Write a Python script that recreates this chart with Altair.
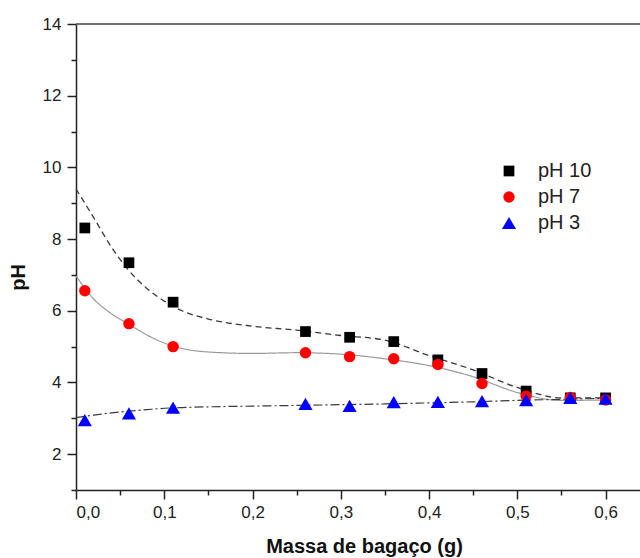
import altair as alt
import pandas as pd

# Measured points
mass = [0.01, 0.06, 0.11, 0.26, 0.31, 0.36, 0.41, 0.46, 0.51, 0.56, 0.60]
ph10 = [8.31, 7.34, 6.24, 5.42, 5.26, 5.14, 4.63, 4.25, 3.76, 3.57, 3.57]
ph7 = [6.56, 5.64, 5.00, 4.83, 4.72, 4.66, 4.50, 3.97, 3.62, 3.58, 3.51]
ph3 = [2.95, 3.14, 3.30, 3.40, 3.35, 3.45, 3.46, 3.48, 3.51, 3.57, 3.55]

# Fitted curves
curve_x = [0.0, 0.02, 0.04, 0.06, 0.08, 0.10, 0.12, 0.15, 0.20, 0.25, 0.30,
           0.35, 0.40, 0.45, 0.50, 0.55, 0.60]
fit10 = [9.40, 8.60, 7.78, 7.12, 6.63, 6.27, 6.00, 5.77, 5.57, 5.46, 5.31,
         5.18, 4.75, 4.35, 3.86, 3.57, 3.57]
fit7 = [6.97, 6.33, 5.92, 5.62, 5.33, 5.10, 4.95, 4.85, 4.81, 4.83, 4.79,
        4.66, 4.47, 4.16, 3.72, 3.50, 3.51]
fit3 = [3.02, 3.09, 3.15, 3.20, 3.24, 3.28, 3.30, 3.32, 3.34, 3.36, 3.38,
        3.40, 3.43, 3.46, 3.50, 3.53, 3.56]

series = ["pH 10", "pH 7", "pH 3"]
colors = ["#000000", "#ff0000", "#0000ff"]
shapes = ["square", "circle", "triangle-up"]
sizes = [115, 130, 200]

x_ticks = [0.0, 0.1, 0.2, 0.3, 0.4, 0.5, 0.6]
x_minor = [0.05, 0.15, 0.25, 0.35, 0.45, 0.55]
y_ticks = [2, 4, 6, 8, 10, 12, 14]
y_minor = [1, 3, 5, 7, 9, 11, 13]

pts = pd.DataFrame({
    "x": mass * 3,
    "y": ph10 + ph7 + ph3,
    "s": [series[0]] * len(mass) + [series[1]] * len(mass) + [series[2]] * len(mass),
    "o": [0] * len(mass) + [1] * len(mass) + [2] * len(mass),
})
curves = pd.DataFrame({
    "x": curve_x * 3,
    "y": fit10 + fit7 + fit3,
    "s": [series[0]] * len(curve_x) + [series[1]] * len(curve_x) + [series[2]] * len(curve_x),
})

FONT = "Liberation Sans"
xscale = alt.Scale(domain=[0, 0.639], nice=False, zero=False)
yscale = alt.Scale(domain=[1, 14], nice=False, zero=False)
lab_expr = "replace(format(datum.value, '.1f'), '.', ',')"

x_main = alt.Axis(values=x_ticks, labelExpr=lab_expr, title="Massa de bagaço (g)",
                  orient="bottom", tickSize=9, labelPadding=5, grid=False,
                  titleX=288, titleY=62, titleBaseline="alphabetic")
y_main = alt.Axis(values=y_ticks, title="pH", orient="left", tickSize=9,
                  labelPadding=6, grid=False, titleX=-52, titleY=253,
                  titleBaseline="alphabetic")

base_curves = alt.Chart(curves)


def curve(name, color, dash, width):
    return base_curves.transform_filter(alt.datum.s == name).mark_line(
        interpolate="monotone", color=color, strokeDash=dash, strokeWidth=width
    ).encode(
        x=alt.X("x:Q", scale=xscale, axis=None),
        y=alt.Y("y:Q", scale=yscale, axis=None),
    )


l10 = curve("pH 10", "#3a3a3a", [6, 4], 1.3)
l7 = curve("pH 7", "#9a9a9a", [1, 0], 1.2)
l3 = curve("pH 3", "#3a3a3a", [9, 3, 2, 3], 1.2)

points = alt.Chart(pts).mark_point(filled=True, opacity=1, strokeWidth=0).encode(
    x=alt.X("x:Q", scale=xscale, axis=x_main),
    y=alt.Y("y:Q", scale=yscale, axis=y_main),
    color=alt.Color("s:N", scale=alt.Scale(domain=series, range=colors),
                    legend=alt.Legend(title=None, orient="none", legendX=423, legendY=137,
                                      labelFontSize=20, labelFont=FONT,
                                      labelColor="#222", labelOffset=19, rowPadding=6,
                                      padding=0, symbolStrokeWidth=0)),
    shape=alt.Shape("s:N", scale=alt.Scale(domain=series, range=shapes), legend=None),
    size=alt.Size("s:N", type="nominal", scale=alt.Scale(type="ordinal", domain=series, range=sizes), legend=None),
    order=alt.Order("o:Q"),
)

top_line = alt.Chart(pd.DataFrame({"t": [14]})).mark_rule(color="#444", strokeWidth=1.5).encode(
    y=alt.Y("t:Q", scale=yscale,
            axis=alt.Axis(values=y_minor, labels=False, title=None, orient="left",
                          tickSize=5, domain=False, grid=False)),
)
minor_x = alt.Chart(pd.DataFrame({"m": [0.0]})).mark_point(opacity=0).encode(
    x=alt.X("m:Q", scale=xscale,
            axis=alt.Axis(values=x_minor, labels=False, title=None, orient="bottom",
                          tickSize=5, domain=False, grid=False)),
)

chart = alt.layer(l10, l7, l3, points, top_line, minor_x).resolve_axis(
    x="independent", y="independent"
).properties(
    width=564, height=466,
    autosize=alt.AutoSizeParams(type="none"),
    padding={"left": 76, "top": 24, "right": 0, "bottom": 68},
).configure_view(stroke=None).configure_axis(
    domainColor="#222", domainWidth=1.5, tickColor="#222", tickWidth=1.5,
    labelFont=FONT, labelFontSize=17, labelColor="#222",
    titleFont=FONT, titleFontSize=20, titleFontWeight="bold", titleColor="#111",
)

chart.save("out.html", embed_options={"renderer": "svg", "actions": False})
